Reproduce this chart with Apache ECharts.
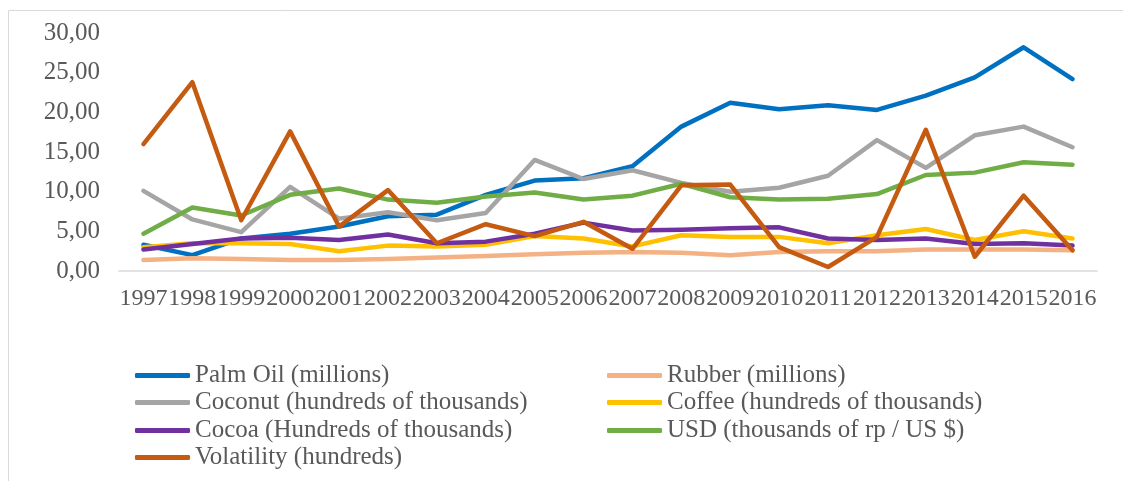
<!DOCTYPE html>
<html><head><meta charset="utf-8">
<script src="https://cdn.jsdelivr.net/npm/echarts@6/dist/echarts.min.js"></script>
<style>html,body{margin:0;padding:0;background:#fff}#c{width:1123px;height:481px}</style>
</head><body><div id="c"></div>
<script>
const years = ['1997','1998','1999','2000','2001','2002','2003','2004','2005','2006','2007','2008','2009','2010','2011','2012','2013','2014','2015','2016'];
const palmOil   = [3.3,2.0,4.1,4.7,5.6,6.9,7.1,9.6,11.4,11.7,13.2,18.2,21.2,20.4,20.9,20.3,22.1,24.4,28.2,24.2];
const rubber    = [1.4,1.6,1.5,1.4,1.4,1.5,1.7,1.9,2.1,2.3,2.4,2.3,2.0,2.4,2.5,2.5,2.7,2.7,2.7,2.6];
const coconut   = [10.1,6.5,4.9,10.6,6.6,7.4,6.4,7.3,14.0,11.6,12.7,11.1,10.0,10.5,12.0,16.5,13.0,17.1,18.2,15.6];
const coffee    = [3.0,3.5,3.5,3.4,2.5,3.2,3.1,3.3,4.4,4.1,3.1,4.5,4.3,4.3,3.5,4.5,5.3,3.9,5.0,4.1];
const cocoa     = [2.7,3.4,4.1,4.2,3.9,4.6,3.5,3.7,4.7,6.1,5.1,5.2,5.4,5.5,4.1,3.9,4.1,3.4,3.5,3.2];
const usd       = [4.7,8.0,7.0,9.6,10.4,9.0,8.6,9.4,9.9,9.0,9.5,11.0,9.3,9.0,9.1,9.7,12.1,12.4,13.7,13.4];
const volatility= [16.0,23.8,6.4,17.6,5.6,10.2,3.5,5.9,4.4,6.2,2.8,10.8,10.9,3.0,0.5,4.3,17.8,1.8,9.5,2.6];
const yTicks = [0,5,10,15,20,25,30];

const seriesDefs = [
  ['Palm Oil (millions)', palmOil, '#0070C0'],
  ['Rubber (millions)', rubber, '#F4B183'],
  ['Coconut (hundreds of thousands)', coconut, '#A5A5A5'],
  ['Coffee (hundreds of thousands)', coffee, '#FFC000'],
  ['Cocoa (Hundreds of thousands)', cocoa, '#7030A0'],
  ['USD (thousands of rp / US $)', usd, '#70AD47'],
  ['Volatility (hundreds)', volatility, '#C55A11']
];
const font = '"Liberation Serif", "Times New Roman", serif';
const legendPos = [[135,363],[607,363],[135,390],[607,390],[135,418],[607,418],[135,445]];
const chart = echarts.init(document.getElementById('c'));
chart.setOption({
  animation:false,
  graphic:[{type:'rect',shape:{x:8.5,y:10.5,width:1130,height:480},style:{fill:'none',stroke:'#d9d9d9',lineWidth:1},silent:true}],
  grid:{left:119,right:26,top:33,bottom:210},
  xAxis:{type:'category',data:years,boundaryGap:true,
    axisLine:{lineStyle:{color:'#d9d9d9',width:1.5}},axisTick:{show:false},
    axisLabel:{color:'#595959',fontFamily:font,fontSize:24,interval:0,margin:16,hideOverlap:false}},
  yAxis:{type:'value',min:yTicks[0],max:yTicks[yTicks.length-1],interval:5,
    splitLine:{show:false},axisLine:{show:false},axisTick:{show:false},
    axisLabel:{color:'#595959',fontFamily:font,fontSize:25,margin:19,
      formatter:v=>v.toFixed(2).replace('.',',')}},
  legend: seriesDefs.map((s,i)=>({data:[s[0]],left:legendPos[i][0],top:legendPos[i][1],
    itemWidth:55,itemHeight:5,itemGap:0,icon:'roundRect',padding:0,
    textStyle:{color:'#595959',fontFamily:font,fontSize:25,padding:0}})),
  series: seriesDefs.map(s=>({name:s[0],type:'line',data:s[1],symbol:'none',
    lineStyle:{color:s[2],width:4.5,cap:'round',join:'round'},itemStyle:{color:s[2]}}))
});
</script></body></html>
